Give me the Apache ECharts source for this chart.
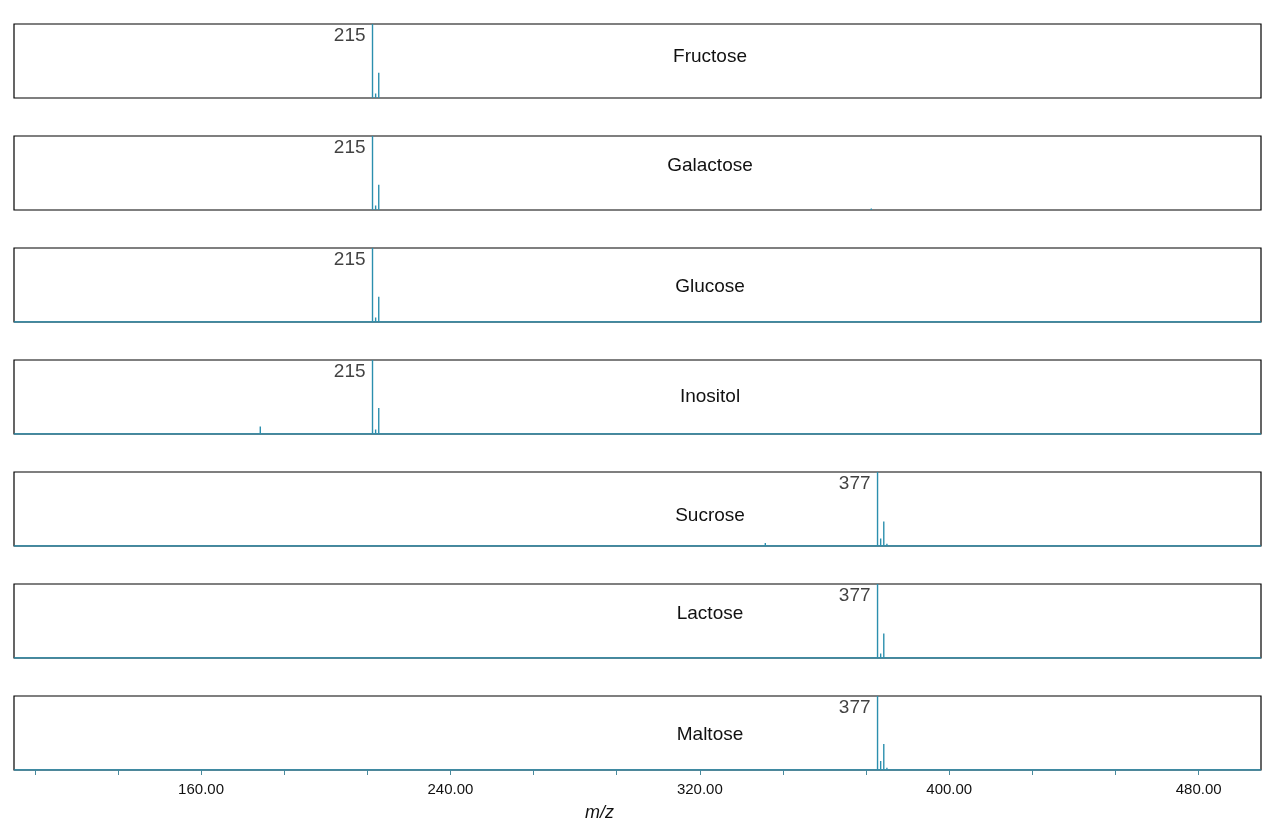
<!DOCTYPE html>
<html><head><meta charset="utf-8">
<script src="https://cdn.jsdelivr.net/npm/echarts@6/dist/echarts.min.js"></script>
<style>html,body{margin:0;background:#fff}#c{width:1280px;height:831px}</style>
</head><body><div id="c"></div>
<script>
const names = ['Fructose','Galactose','Glucose','Inositol','Sucrose','Lactose','Maltose'];
const mainPeak = [215,215,215,215,377,377,377];
const peaks = [
  [[215,1.0],[216,0.06],[217,0.34]],
  [[215,1.0],[216,0.06],[217,0.34],[375,0.02]],
  [[215,1.0],[216,0.06],[217,0.34]],
  [[179,0.1],[215,1.0],[216,0.06],[217,0.35]],
  [[341,0.04],[377,1.0],[378,0.1],[379,0.33],[380,0.03]],
  [[377,1.0],[378,0.06],[379,0.33]],
  [[377,1.0],[378,0.12],[379,0.35],[380,0.03]]
];
const baseline = [false,false,true,true,true,true,true];
const nameTop = [42,151,272,382,501,599,720];
const tickLabels = [160,240,320,400,480];
const minorTicks = [106.67,133.33,160,186.67,213.33,240,266.67,293.33,320,346.67,373.33,400,426.67,453.33,480];

const teal = '#2b8fae';
const grids=[],xAxes=[],yAxes=[],series=[],titles=[];
names.forEach((n,i)=>{
  const top = 24+112*i;
  grids.push({left:14,right:19,top:top,height:74,show:true,borderColor:'#000',borderWidth:1.2,backgroundColor:'transparent'});
  const last = i===names.length-1;
  xAxes.push({type:'value',gridIndex:i,min:100,max:500,
    axisLine:{show:false},splitLine:{show:false},
    axisTick:{show:last,inside:false,length:5,customValues:minorTicks,lineStyle:{color:'#4a8a9c'}},
    axisLabel:{show:last,customValues:tickLabels,formatter:v=>v.toFixed(2),fontSize:15,color:'#111',fontFamily:'Liberation Sans',margin:12}});
  yAxes.push({type:'value',gridIndex:i,min:0,max:1,show:false});
  const d=[];
  if(baseline[i]) d.push([100,0]);
  peaks[i].forEach(p=>{
    if(!baseline[i]) d.push(null);
    d.push([p[0],0]); d.push([p[0],p[1]]); d.push([p[0],0]);
  });
  if(baseline[i]) d.push([500,0]);
  series.push({type:'line',xAxisIndex:i,yAxisIndex:i,data:d,symbol:'none',connectNulls:false,animation:false,
    lineStyle:{color:teal,width:1.4},z:1});
  series.push({type:'scatter',xAxisIndex:i,yAxisIndex:i,symbolSize:0,data:[[mainPeak[i],1.0]],silent:true,
    label:{show:true,formatter:String(mainPeak[i]),position:'left',distance:7,offset:[0,12],fontSize:19,color:'#111',fontFamily:'Liberation Sans'}});
  titles.push({text:n,left:705,top:nameTop[i],textAlign:'center',textStyle:{fontSize:19,fontWeight:'normal',color:'#111',fontFamily:'Liberation Sans'}});
});
const chart = echarts.init(document.getElementById('c'));
chart.setOption({animation:false,title:titles,grid:grids,xAxis:xAxes,yAxis:yAxes,series:series,
  graphic:[{type:'text',left:585,top:804,style:{text:'m/z',font:'italic 18px Liberation Sans',fill:'#111'}}]});
</script></body></html>
